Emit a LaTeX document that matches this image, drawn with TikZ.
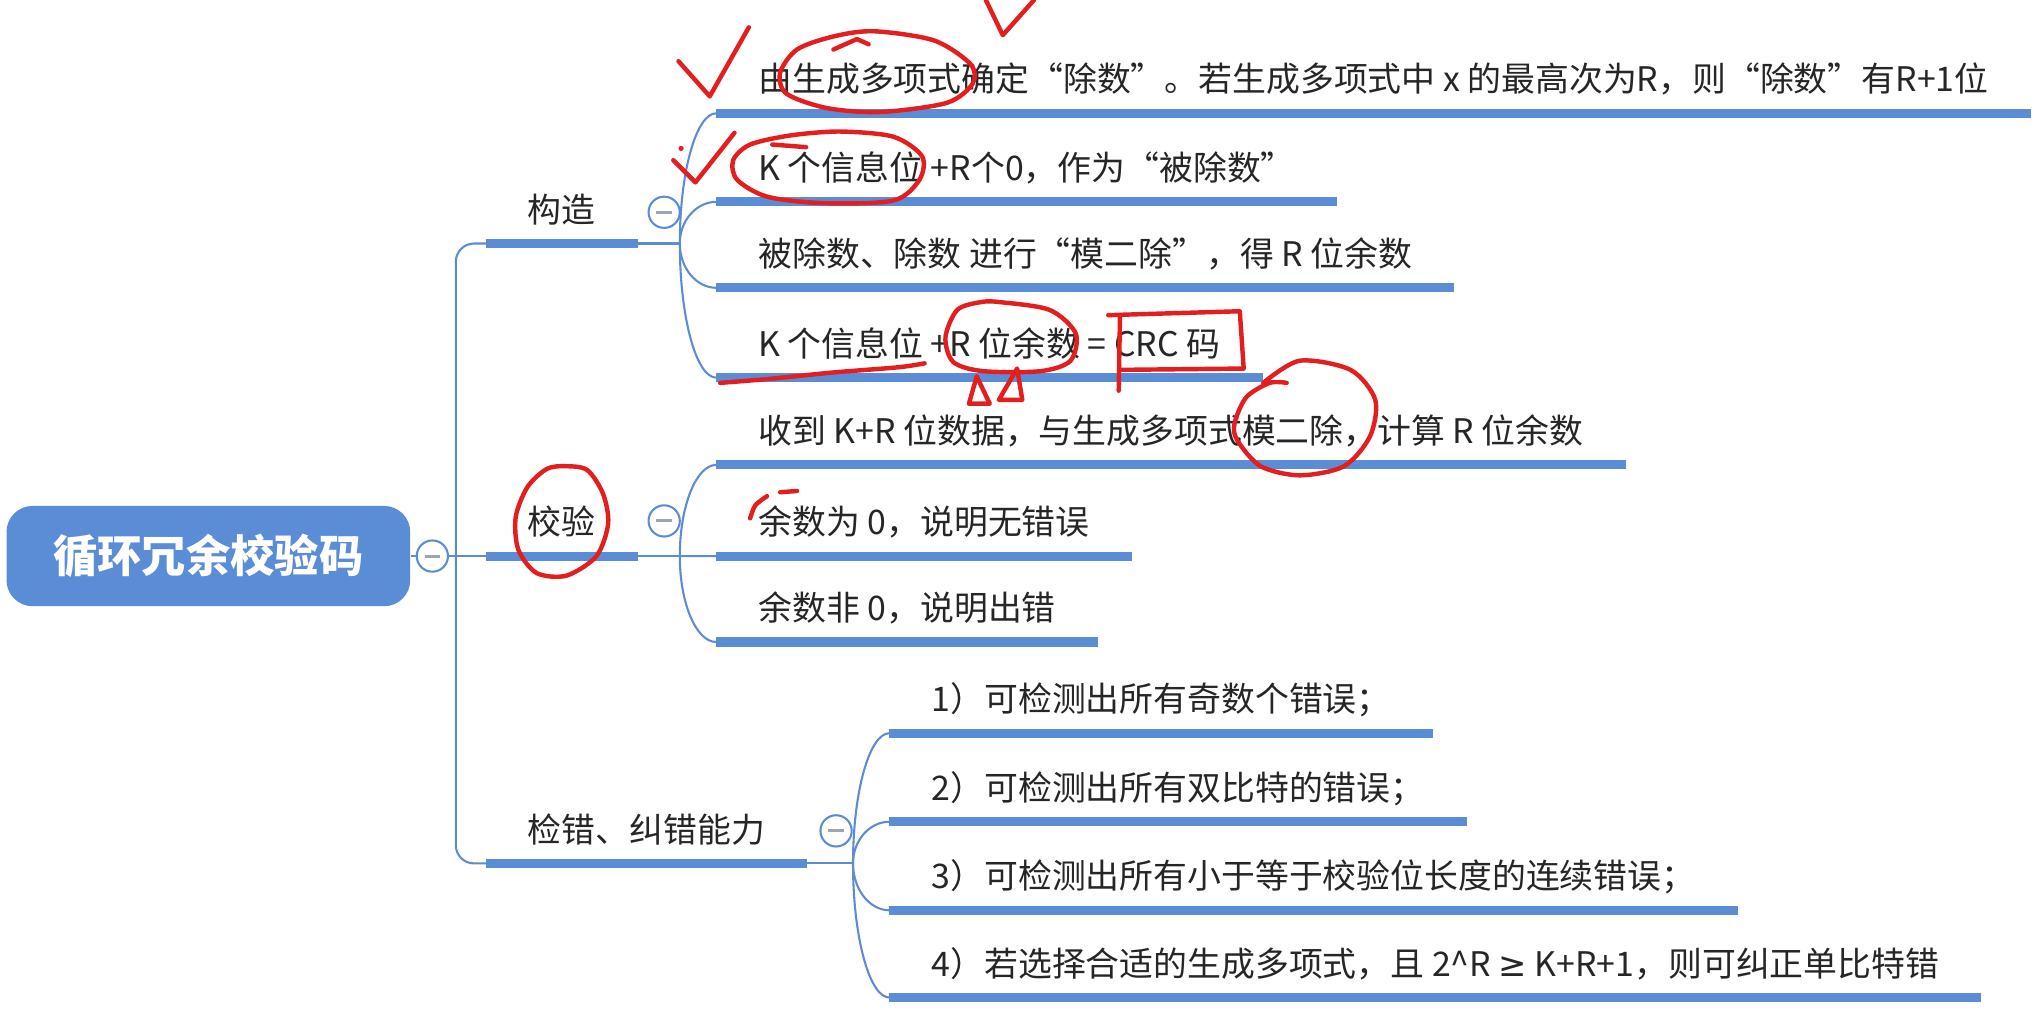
\documentclass[tikz,border=0pt]{standalone}
\usepackage{fontspec}
\setmainfont{Noto Sans CJK SC}
\newfontfamily\symfont{DejaVu Sans}
\usepackage{xcolor}
\usepackage{tikz}
\usetikzlibrary{positioning,calc}

\definecolor{mapblue}{HTML}{5B8DD6}
\definecolor{linkblue}{HTML}{5E8CD2}
\definecolor{foldgray}{HTML}{9CA4B2}
\definecolor{penred}{HTML}{E41E1E}

\tikzset{
  rootbox/.style={rectangle, rounded corners=10pt, fill=mapblue, text=white, inner sep=0pt,
    minimum width=155pt, minimum height=38.5pt, font=\fontsize{17}{20}\selectfont\bfseries},
  topic/.style={anchor=south west, inner xsep=16pt, inner ysep=6pt, text height=10pt,
    text depth=2pt, text=black!85, font=\fontsize{13}{16}\selectfont},
  bar/.style={mapblue, line width=3.5pt},
  link/.style={linkblue, line width=0.8pt},
  fold/.style={circle, draw=linkblue, line width=0.8pt, fill=white, minimum size=12pt, inner sep=0pt,
    path picture={\draw[foldgray, line width=1.2pt]
      ([xshift=-3pt]path picture bounding box.center) -- ([xshift=3pt]path picture bounding box.center);}},
  pen/.style={penred, line width=1.7pt, line cap=round, line join=round},
}

\begin{document}
\begin{tikzpicture}[x=0.5pt, y=-0.5pt]
\fill[white] (0,0) rectangle (1568,780);
\useasboundingbox (0,0) rectangle (1568,780);

\node[rootbox] (root) at (160,427) {循环冗余校验码};
\node[fold] (f0) at (332,427) {};
\coordinate (trunk) at (350,427);

\node[topic] (gz) at (373,187) {构造};
\node[topic] (jy) at (373,427) {校验};
\node[topic] (jc) at (373,663) {检错、纠错能力};

\coordinate (hubgz) at (522,187);
\coordinate (hubjy) at (522,427);
\coordinate (hubjc) at (655,663);
\node[fold] (fgz) at (510,163) {};
\node[fold] (fjy) at (510,400) {};
\node[fold] (fjc) at (642,638) {};

\node[topic] (gz1) at (550,87) {由生成多项式确定“除数”。若生成多项式中 x 的最高次为R，则“除数”有R+1位};
\node[topic] (gz2) at (550,155) {K 个信息位 +R个0，作为“被除数”};
\node[topic] (gz3) at (550,221) {被除数、除数 进行“模二除”，得 R 位余数};
\node[topic] (gz4) at (550,290) {K 个信息位 +R 位余数 = CRC 码};
\node[topic] (jy1) at (550,357) {收到 K+R 位数据，与生成多项式模二除，计算 R 位余数};
\node[topic] (jy2) at (550,427) {余数为 0，说明无错误};
\node[topic] (jy3) at (550,493) {余数非 0，说明出错};
\node[topic] (jc1) at (683,563) {1）可检测出所有奇数个错误；};
\node[topic] (jc2) at (683,631) {2）可检测出所有双比特的错误；};
\node[topic] (jc3) at (683,699) {3）可检测出所有小于等于校验位长度的连续错误；};
\node[topic] (jc4) at (683,766) {4）若选择合适的生成多项式，且 2\textasciicircum R {\symfont ≥} K+R+1，则可纠正单比特错};

\draw[link] (root) -- (f0);
\draw[link] (f0) -- (jy.south west);
\draw[link, rounded corners=7pt] (gz.south west) -- (trunk |- gz.south west)
  -- (trunk |- jc.south west) -- (jc.south west);
\foreach \p/\c in {gz/gz1,gz/gz2,gz/gz3,gz/gz4,jy/jy1,jy/jy2,jy/jy3,jc/jc1,jc/jc2,jc/jc3,jc/jc4} {
  \draw[link] (\p.south east) -- (hub\p);
  \draw[link] (hub\p) .. controls ($(hub\p)!0.55!(hub\p |- \c.south west)$)
    and ($(hub\p |- \c.south west)!0.45!(\c.south west)$) .. (\c.south west);
}
\foreach \n in {gz,jy,jc,gz1,gz2,gz3,gz4,jy1,jy2,jy3,jc1,jc2,jc3,jc4}
  \draw[bar] (\n.south west) -- (\n.south east);

\draw[pen] (521,47) -- (545,74) -- (575,21);
\draw[pen] (517,123) -- (534,140) -- (564,102);
\fill[penred] (523,114) circle (1pt);
\draw[pen] (757,0) -- (770,27) -- (794,0);
\draw[pen] plot[smooth cycle] coordinates {(640,28) (671,24) (717,31) (745,49) (747,64) (727,79)
  (676,86) (635,83) (604,72) (599,56) (612,38)};
\draw[pen] (640,38) -- (658,30) -- (667,34);
\draw[pen] plot[smooth cycle] coordinates {(645,101) (686,105) (708,120) (706,138) (686,154)
  (632,156) (589,151) (566,138) (563,123) (576,111) (607,104)};
\draw[pen] (593,111) -- (619,113);
\draw[pen] plot[smooth] coordinates {(553,294) (590,291) (640,286) (690,282) (710,279)};
\draw[pen] plot[smooth cycle] coordinates {(768,232) (806,238) (826,256) (822,277) (799,285)
  (755,285) (732,278) (726,259) (735,238) (753,232)};
\draw[pen] (750,289) -- (744,310) -- (760,310) -- cycle;
\draw[pen] (781,283) -- (767,307) -- (785,307) -- cycle;
\draw[pen] (851,242) -- (952,239) -- (955,283) -- (861,284);
\draw[pen] (860,243) -- (859,300);
\draw[pen] plot[smooth] coordinates {(970,294) (998,277) (1037,284) (1056,307) (1052,335)
  (1032,358) (998,365) (968,358) (950,338) (948,325) (957,305) (975,294) (988,294)};
\draw[pen] plot[smooth cycle] coordinates {(435,358) (451,361) (463,379) (467,402) (458,427)
  (435,442) (412,440) (398,422) (396,397) (405,374) (420,360)};
\draw[pen] plot[smooth] coordinates {(576,398) (580,388) (589,381)};
\draw[pen] (599,378) -- (612,377);
\end{tikzpicture}
\end{document}
